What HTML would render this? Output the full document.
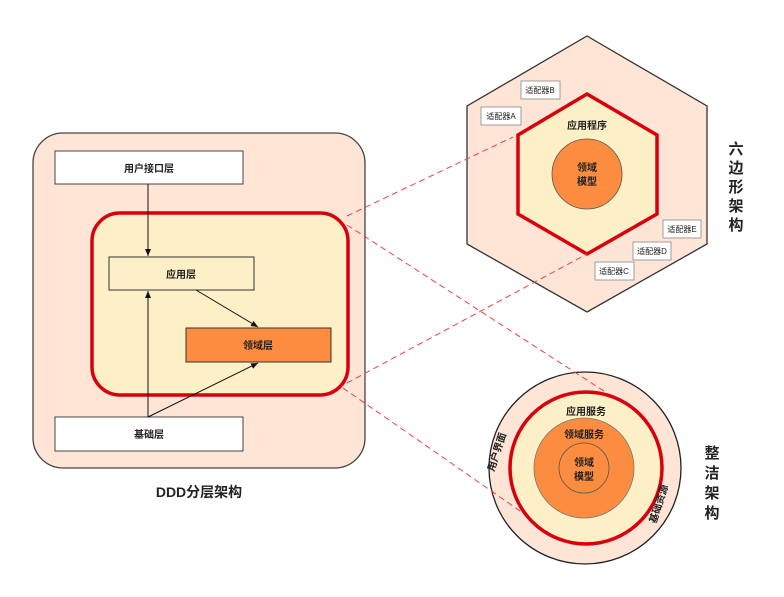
<!DOCTYPE html>
<html><head><meta charset="utf-8"><style>
body{margin:0;background:#fff;}
svg text{font-family:"Liberation Sans","Noto Sans CJK SC",sans-serif;font-weight:bold;fill:#222;}
</style></head><body>
<svg width="784" height="592" viewBox="0 0 784 592" xmlns="http://www.w3.org/2000/svg">
<defs><marker id="a" markerWidth="8" markerHeight="8" refX="7" refY="4" orient="auto" markerUnits="userSpaceOnUse"><path d="M0,1 L7,4 L0,7 Z" fill="#111"/></marker></defs>
<!-- left -->
<rect x="33" y="133" width="332" height="335" rx="30" fill="#fee5d6" stroke="#444" stroke-width="1.3"/>
<rect x="92" y="213" width="256" height="182" rx="28" fill="#fdefc6" stroke="#d9000e" stroke-width="3.5"/>
<rect x="55" y="151" width="188" height="33" fill="#fff" stroke="#444"/>
<text x="149" y="172" font-size="10" text-anchor="middle">用户接口层</text>
<rect x="109" y="257" width="145" height="33" fill="#fdefc6" stroke="#333"/>
<text x="181" y="278" font-size="10" text-anchor="middle">应用层</text>
<rect x="186" y="328" width="145" height="34" fill="#fb8c40" stroke="#333"/>
<text x="258" y="349" font-size="10" text-anchor="middle">领域层</text>
<rect x="55" y="417" width="188" height="34" fill="#fff" stroke="#444"/>
<text x="149" y="438" font-size="10" text-anchor="middle">基础层</text>
<g stroke="#111" stroke-width="1" fill="none">
<line x1="148" y1="184" x2="148" y2="256" marker-end="url(#a)"/>
<line x1="148" y1="417" x2="148" y2="291" marker-end="url(#a)"/>
<line x1="196" y1="290" x2="258" y2="327" marker-end="url(#a)"/>
<line x1="148" y1="417" x2="258" y2="363" marker-end="url(#a)"/>
</g>
<text x="199" y="497" font-size="14" text-anchor="middle">DDD分层架构</text>
<!-- hex -->
<polygon points="587,36 707,106 707,244 587,312 467,244 467,106" fill="#fee5d6" stroke="#333" stroke-width="1.3"/>
<polygon points="587,94 657,135 657,214 587,254 518,214 518,135" fill="#fdefc6" stroke="#d9000e" stroke-width="3.5"/>
<circle cx="587" cy="174" r="35" fill="#fb8c40" stroke="#555" stroke-width="0.8"/>
<text x="587" y="129" font-size="10" text-anchor="middle">应用程序</text>
<text x="587" y="171" font-size="10" text-anchor="middle">领域</text>
<text x="587" y="185" font-size="10" text-anchor="middle">模型</text>
<g font-size="8" stroke-width="0.8">
<rect x="521" y="81" width="39" height="18" fill="#fff" stroke="#888"/><text x="540" y="93" font-size="8" font-weight="normal" text-anchor="middle" style="font-weight:normal">适配器B</text>
<rect x="481" y="107" width="40" height="18" fill="#fff" stroke="#888"/><text x="501" y="119" font-size="8" text-anchor="middle" style="font-weight:normal">适配器A</text>
<rect x="663" y="220" width="38" height="18" fill="#fff" stroke="#888"/><text x="682" y="232" font-size="8" text-anchor="middle" style="font-weight:normal">适配器E</text>
<rect x="633" y="242" width="38" height="18" fill="#fff" stroke="#888"/><text x="652" y="254" font-size="8" text-anchor="middle" style="font-weight:normal">适配器D</text>
<rect x="595" y="262" width="39" height="18" fill="#fff" stroke="#888"/><text x="614" y="274" font-size="8" text-anchor="middle" style="font-weight:normal">适配器C</text>
</g>
<g font-size="15" text-anchor="middle">
<text x="736" y="154">六</text><text x="736" y="173">边</text><text x="736" y="192">形</text><text x="736" y="211">架</text><text x="736" y="230">构</text>
<text x="712" y="458">整</text><text x="712" y="478">洁</text><text x="712" y="498">架</text><text x="712" y="518">构</text>
</g>
<!-- circle -->
<circle cx="585" cy="468" r="96" fill="#fee5d6" stroke="#222" stroke-width="1.3"/>
<circle cx="586" cy="468" r="76" fill="#fdefc6" stroke="#d9000e" stroke-width="3.5"/>
<circle cx="584" cy="468" r="50" fill="#fb8c40" stroke="#777" stroke-width="0.8"/>
<circle cx="584" cy="468" r="25" fill="none" stroke="#555" stroke-width="0.8"/>
<text x="586" y="415" font-size="10" text-anchor="middle">应用服务</text>
<text x="584" y="438" font-size="10" text-anchor="middle">领域服务</text>
<text x="584" y="466" font-size="10" text-anchor="middle">领域</text>
<text x="584" y="480" font-size="10" text-anchor="middle">模型</text>
<text x="0" y="0" font-size="10" text-anchor="middle" transform="translate(500,453) rotate(-72)">用户界面</text>
<text x="0" y="0" font-size="10" text-anchor="middle" transform="translate(662,505) rotate(-72)">基础资源</text>
<!-- dashed -->
<g stroke="#f0404a" stroke-width="1" stroke-dasharray="6,4" fill="none">
<line x1="347" y1="216" x2="513" y2="137"/>
<line x1="347" y1="225" x2="607" y2="393"/>
<line x1="347" y1="383" x2="587" y2="254"/>
<line x1="343" y1="388" x2="523" y2="513"/>
</g>
</svg>
</body></html>
